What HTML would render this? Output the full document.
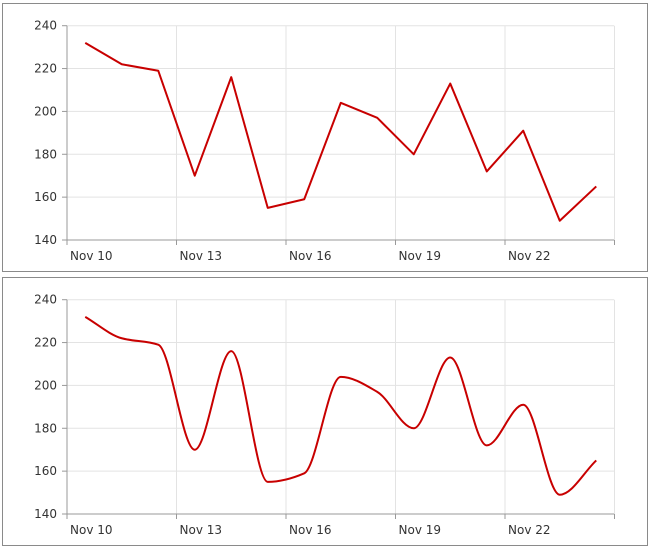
<!DOCTYPE html>
<html><head><style>
html,body{margin:0;padding:0;background:#fff;width:650px;height:550px;overflow:hidden}
svg{display:block}
text{font-family:"DejaVu Sans","Liberation Sans",sans-serif;font-size:12px;fill:#333}
</style></head><body>
<svg id="s" width="650" height="550" xmlns="http://www.w3.org/2000/svg"></svg>
<script>
var data=[232,222,219,170,216,155,159,204,197,180,213,172,191,149,165];
var s=document.getElementById('s');var h='';
function X(i){return 67+(i+0.5)*36.5;}
function panel(off,smooth){
  h+='<rect x="2.5" y="'+(3.5+off)+'" width="645" height="268" fill="#fff" stroke="#8a8a8a"/>';
  function Y(v){return off+25.7+(240-v)*2.143;}
  for(var v=140;v<=240;v+=20){var y=Y(v);
    if(v>140)h+='<line x1="67" x2="614" y1="'+y+'" y2="'+y+'" stroke="#e3e3e3"/>';
    h+='<line x1="62" x2="67" y1="'+y+'" y2="'+y+'" stroke="#999"/>';
    h+='<text x="57" y="'+(y+4)+'" text-anchor="end">'+v+'</text>';}
  var labs=['Nov 10','Nov 13','Nov 16','Nov 19','Nov 22'];
  for(var k=0;k<6;k++){var x=67+k*109.5;
    if(k>0)h+='<line x1="'+x+'" x2="'+x+'" y1="'+Y(240)+'" y2="'+Y(140)+'" stroke="#e3e3e3"/>';
    h+='<line x1="'+x+'" x2="'+x+'" y1="'+Y(140)+'" y2="'+(Y(140)+5)+'" stroke="#999"/>';
    if(k<5)h+='<text x="'+(x+3)+'" y="'+(Y(140)+20)+'">'+labs[k]+'</text>';}
  h+='<line x1="67" x2="67" y1="'+Y(240)+'" y2="'+Y(140)+'" stroke="#999"/>';
  h+='<line x1="67" x2="614" y1="'+Y(140)+'" y2="'+Y(140)+'" stroke="#999"/>';
  var n=data.length,px=[],py=[];for(var i=0;i<n;i++){px.push(X(i));py.push(Y(data[i]));}
  var d='M'+px[0]+','+py[0];
  if(!smooth){for(i=1;i<n;i++)d+='L'+px[i]+','+py[i];}
  else{var dx=36.5,m=[],sl=[];
    for(i=0;i<n-1;i++)sl.push((py[i+1]-py[i])/dx);
    m[0]=sl[0];m[n-1]=sl[n-2];
    for(i=1;i<n-1;i++){m[i]=(sl[i-1]*sl[i]<=0)?0:2/(1/sl[i-1]+1/sl[i]);}
    for(i=0;i<n-1;i++){d+='C'+(px[i]+dx/3)+','+(py[i]+m[i]*dx/3)+' '+(px[i+1]-dx/3)+','+(py[i+1]-m[i+1]*dx/3)+' '+px[i+1]+','+py[i+1];}}
  h+='<path d="'+d+'" fill="none" stroke="#c80000" stroke-width="2" stroke-linejoin="round"/>';
}
panel(0,false);panel(274,true);
s.innerHTML=h;
</script>
</body></html>
